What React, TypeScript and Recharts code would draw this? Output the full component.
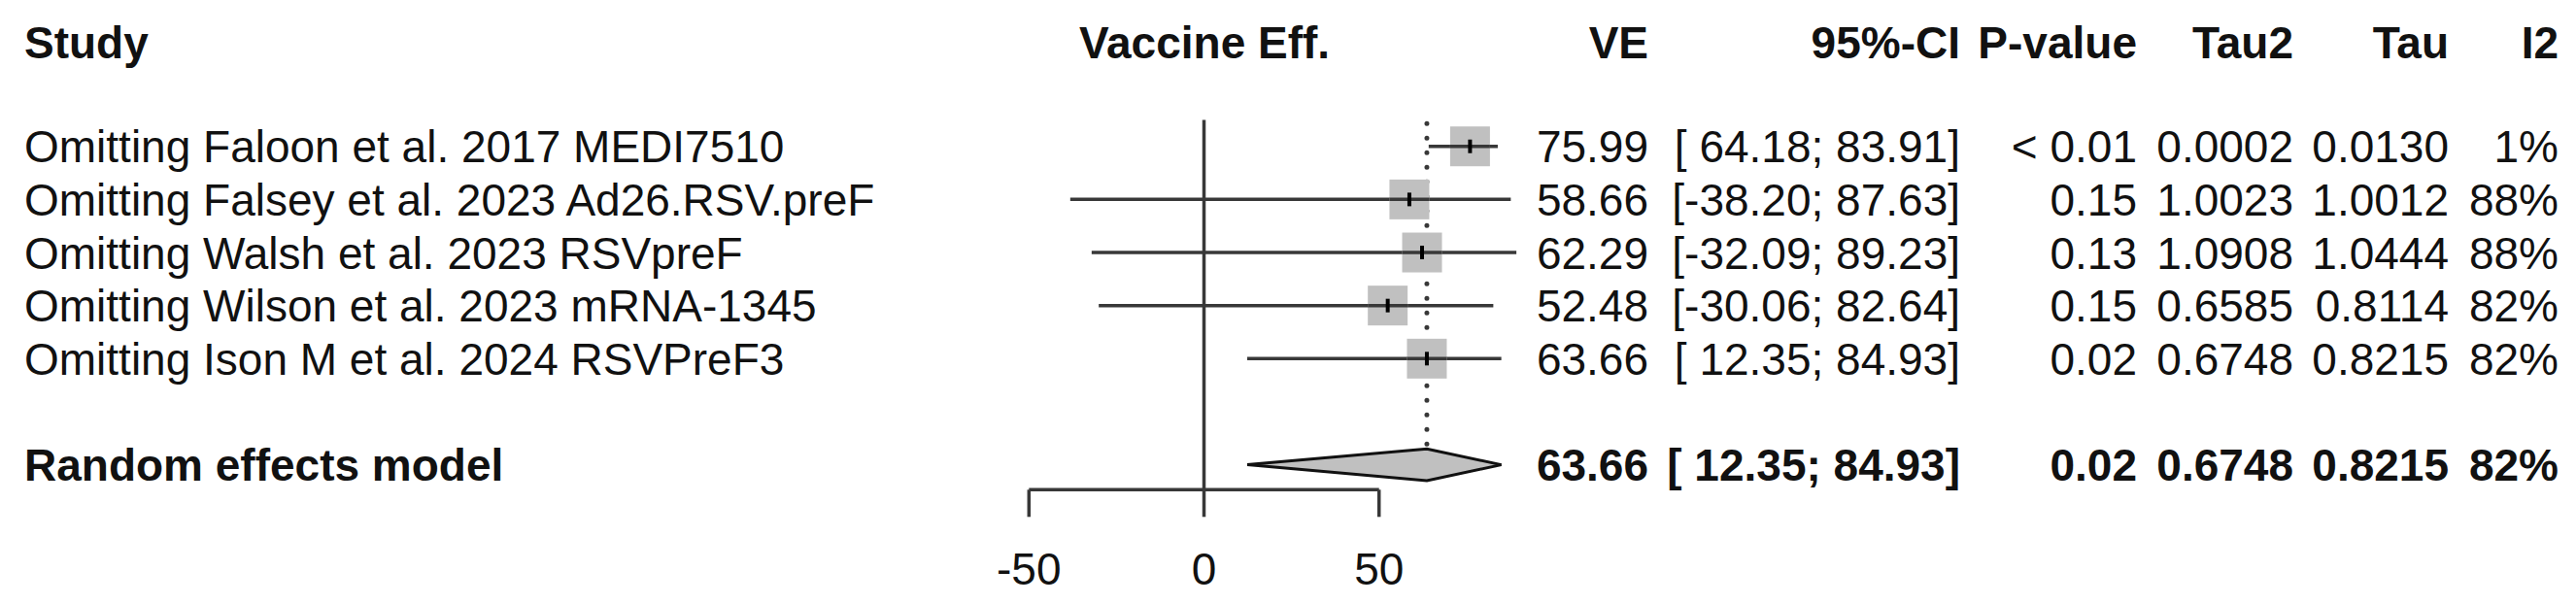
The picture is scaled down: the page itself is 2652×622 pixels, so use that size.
/*
 * Forest plot (leave-one-out sensitivity analysis) of vaccine efficacy.
 * Table columns are drawn as scatter shapes so rows follow the y scale.
 */
import { Area, ComposedChart, ErrorBar, ReferenceLine, Scatter, XAxis, YAxis } from 'recharts';

const studies = [
  'Omitting Faloon et al. 2017 MEDI7510',
  'Omitting Falsey et al. 2023 Ad26.RSV.preF',
  'Omitting Walsh et al. 2023 RSVpreF',
  'Omitting Wilson et al. 2023 mRNA-1345',
  'Omitting Ison M et al. 2024 RSVPreF3',
];
const ve = [75.99, 58.66, 62.29, 52.48, 63.66];
const ciLow = [64.18, -38.2, -32.09, -30.06, 12.35];
const ciHigh = [83.91, 87.63, 89.23, 82.64, 84.93];
const pValues = ['< 0.01', '0.15', '0.13', '0.15', '0.02'];
const tau2 = ['0.0002', '1.0023', '1.0908', '0.6585', '0.6748'];
const tau = ['0.0130', '1.0012', '1.0444', '0.8114', '0.8215'];
const i2 = ['1%', '88%', '88%', '82%', '82%'];

const summaryLabel = 'Random effects model';
const summaryVe = 63.66;
const summaryLow = 12.35;
const summaryHigh = 84.93;
const summaryP = '0.02';
const summaryTau2 = '0.6748';
const summaryTau = '0.8215';
const summaryI2 = '82%';

const headers = ['Study', 'Vaccine Eff.', 'VE', '95%-CI', 'P-value', 'Tau2', 'Tau', 'I2'];
const xTicks = [-50, 0, 50];

const FONT = '"Liberation Sans", Arial, Helvetica, sans-serif';
const INK = '#111';
const LINE = '#383838';
const BOX = '#c0c0c0';
const FS = 46;
// right edges of the numeric columns
const COL = { ve: 1697, ci: 2018, p: 2200, tau2: 2361, tau: 2521, i2: 2634 };

// lower bound gets a leading space when positive, like R's padding
const fmtLo = (v: number) => (v < 0 ? v.toFixed(2) : ' ' + v.toFixed(2));

const rows = studies.map((s, i) => ({
  x: ve[i],
  y: i,
  study: s,
  ci: `[${fmtLo(ciLow[i])}; ${ciHigh[i].toFixed(2)}]`,
  err: [ve[i] - ciLow[i], ciHigh[i] - ve[i]],
  p: pValues[i],
  tau2: tau2[i],
  tau: tau[i],
  i2: i2[i],
}));

const SUMMARY_ROW = 6;
const summary = [
  {
    x: summaryVe,
    y: SUMMARY_ROW,
    study: summaryLabel,
    ci: `[${fmtLo(summaryLow)}; ${summaryHigh.toFixed(2)}]`,
    p: summaryP,
    tau2: summaryTau2,
    tau: summaryTau,
    i2: summaryI2,
  },
];

const DIAMOND_H = 0.3;
const diamond = [
  { x: summaryLow, band: [SUMMARY_ROW, SUMMARY_ROW] },
  { x: summaryVe, band: [SUMMARY_ROW + DIAMOND_H, SUMMARY_ROW - DIAMOND_H] },
  { x: summaryHigh, band: [SUMMARY_ROW, SUMMARY_ROW] },
];

function rowText(bold: boolean) {
  return (props: any) => {
    const { cy, payload } = props;
    const t = { fontFamily: FONT, fontSize: FS, fill: INK, fontWeight: bold ? 700 : 400 };
    const y = cy + 16.5;
    return (
      <g>
        <text x={25} y={y} {...t}>{payload.study}</text>
        <text x={COL.ve} y={y} textAnchor="end" {...t}>{payload.x.toFixed(2)}</text>
        <text x={COL.ci} y={y} textAnchor="end" style={{ whiteSpace: 'pre' }} {...t}>{payload.ci}</text>
        <text x={COL.p} y={y} textAnchor="end" {...t}>{payload.p}</text>
        <text x={COL.tau2} y={y} textAnchor="end" {...t}>{payload.tau2}</text>
        <text x={COL.tau} y={y} textAnchor="end" {...t}>{payload.tau}</text>
        <text x={COL.i2} y={y} textAnchor="end" {...t}>{payload.i2}</text>
      </g>
    );
  };
}

// error bars sit under the symbols, so the CI line is repeated across the box
const StudyBox = (props: any) => (
  <g>
    <rect x={props.cx - 20.5} y={props.cy - 20.5} width={41} height={41} fill={BOX} />
    <line x1={props.cx - 20.5} x2={props.cx + 20.5} y1={props.cy} y2={props.cy} stroke={LINE} strokeWidth={3.5} />
  </g>
);

const EstTick = (props: any) => (
  <line x1={props.cx} x2={props.cx} y1={props.cy - 7} y2={props.cy + 7} stroke="#000" strokeWidth={4} />
);

function Header() {
  const t = { fontFamily: FONT, fontSize: FS, fill: INK, fontWeight: 700 };
  const y = 60;
  const right = [COL.ve, COL.ci, COL.p, COL.tau2, COL.tau, COL.i2];
  return (
    <g>
      <text x={25} y={y} {...t}>{headers[0]}</text>
      <text x={1240} y={y} textAnchor="middle" {...t}>{headers[1]}</text>
      {headers.slice(2).map((h, i) => (
        <text key={h} x={right[i]} y={y} textAnchor="end" {...t}>{h}</text>
      ))}
    </g>
  );
}

export default function App() {
  return (
    <div style={{ position: 'absolute', left: 0, top: 0, width: 2652, height: 622, background: '#fff', fontFamily: FONT }}>
      <ComposedChart
        width={2652}
        height={622}
        margin={{ top: 123.4, right: 1088.1, bottom: 27.7, left: 1059.3 }}
      >
        <XAxis
          type="number"
          dataKey="x"
          domain={[-50, 90]}
          ticks={xTicks}
          axisLine={false}
          tickLine={{ stroke: LINE, strokeWidth: 3.5 }}
          stroke={LINE}
          tickSize={28}
          tickMargin={37}
          height={90}
          tick={{ fontSize: FS, fill: INK, fontFamily: FONT }}
        />
        <YAxis type="number" dataKey="y" domain={[-0.5, 6.47]} reversed hide />
        <ReferenceLine x={0} stroke={LINE} strokeWidth={3.5} />
        <ReferenceLine
          segment={[{ x: -50, y: 6.47 }, { x: 50, y: 6.47 }]}
          stroke={LINE}
          strokeWidth={3.5}
        />
        <ReferenceLine
          segment={[{ x: summaryVe, y: -0.43 }, { x: summaryVe, y: SUMMARY_ROW - DIAMOND_H }]}
          stroke={LINE}
          strokeWidth={5}
          strokeDasharray="0 15"
          strokeLinecap="round"
        />
        <Scatter data={rows} shape={StudyBox} isAnimationActive={false}>
          <ErrorBar dataKey="err" direction="x" width={0} stroke={LINE} strokeWidth={3.5} isAnimationActive={false} />
        </Scatter>
        <Scatter data={rows} shape={EstTick} isAnimationActive={false} />
        <Area
          data={diamond}
          dataKey="band"
          type="linear"
          fill={BOX}
          fillOpacity={1}
          stroke="#111"
          strokeWidth={3}
          dot={false}
          activeDot={false}
          isAnimationActive={false}
        />
        <Scatter data={rows} shape={rowText(false)} isAnimationActive={false} />
        <Scatter data={summary} shape={rowText(true)} isAnimationActive={false} />
        <Header />
      </ComposedChart>
    </div>
  );
}
